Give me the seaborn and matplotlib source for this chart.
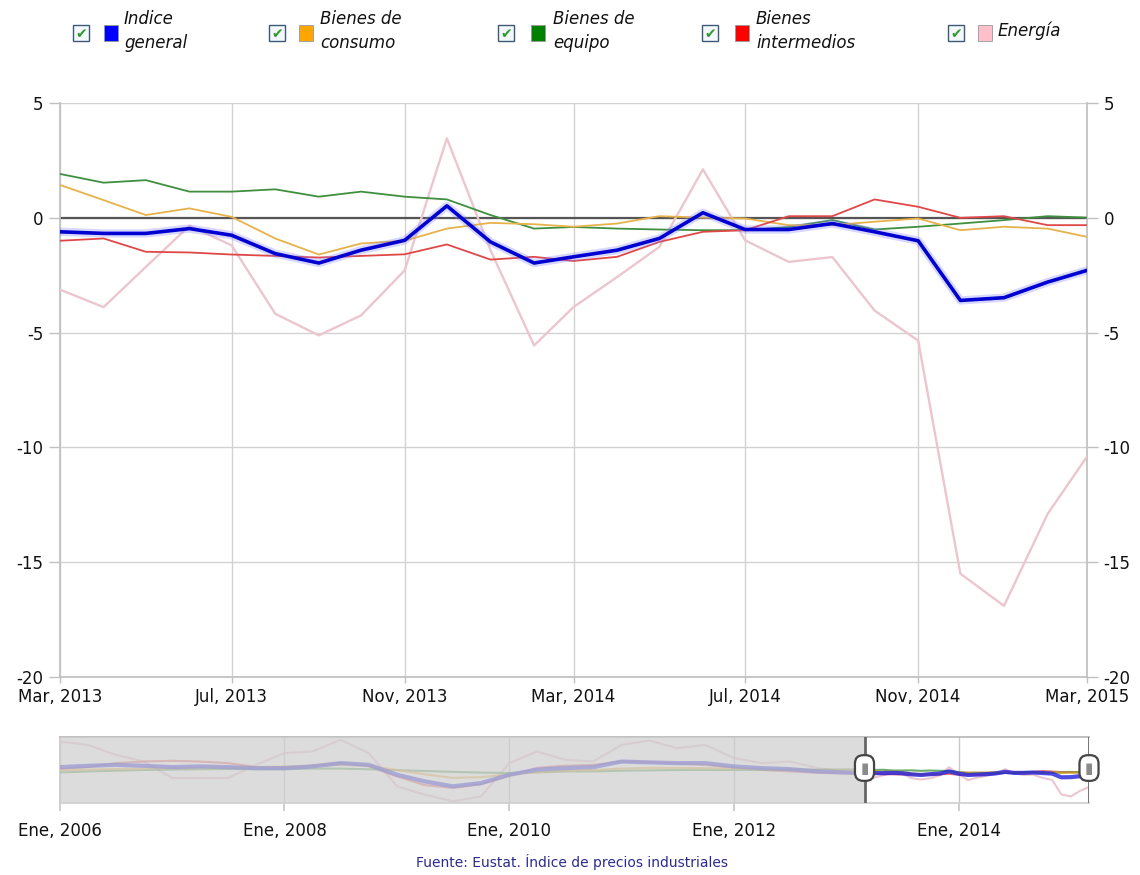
import pandas as pd
import matplotlib.pyplot as plt
import matplotlib.patches as mpatches
import seaborn as sns

# Datos mensuales (Mar 2013 - Mar 2015), tasa de variación interanual
meses = pd.date_range('2013-03-01', '2015-03-01', freq='MS')
general = [-0.61, -0.68, -0.68, -0.47, -0.76, -1.56, -1.97, -1.41, -0.98, 0.52, -1.05, -1.97, -1.7,
           -1.41, -0.9, 0.22, -0.51, -0.51, -0.25, -0.61, -1.0, -3.6, -3.48, -2.8, -2.29]
consumo = [1.43, 0.77, 0.12, 0.41, 0.04, -0.9, -1.6, -1.12, -1.0, -0.47, -0.22, -0.28, -0.39,
           -0.25, 0.07, 0.01, -0.03, -0.32, -0.32, -0.17, -0.03, -0.54, -0.39, -0.47, -0.83]
equipo = [1.91, 1.53, 1.64, 1.14, 1.14, 1.24, 0.92, 1.14, 0.92, 0.8, 0.12, -0.47, -0.4,
          -0.47, -0.51, -0.54, -0.54, -0.4, -0.1, -0.51, -0.39, -0.25, -0.1, 0.07, 0.01]
intermedios = [-1.0, -0.9, -1.48, -1.51, -1.6, -1.66, -1.73, -1.66, -1.59, -1.16, -1.82, -1.7, -1.88,
               -1.7, -1.05, -0.61, -0.54, 0.07, 0.07, 0.8, 0.48, 0.0, 0.07, -0.32, -0.32]
energia = [-3.13, -3.89, -2.14, -0.35, -1.2, -4.18, -5.12, -4.25, -2.29, 3.46, -1.41, -5.56, -3.89,
           -2.58, -1.27, 2.11, -0.98, -1.92, -1.71, -4.04, -5.35, -15.5, -16.9, -12.9, -10.4]

# Histórico trimestral para el navegador (Ene 2006 - Ene 2013)
trimestres = pd.date_range('2006-01-01', '2013-01-01', freq='QS')
general_hist = [3.5, 4.4, 5.1, 4.4, 3.5, 4.0, 3.5, 2.8, 2.8, 4.0, 6.3, 5.1, -1.8, -6.4, -9.9,
                -7.6, -1.8, 1.7, 2.8, 3.5, 7.4, 6.8, 6.3, 6.3, 4.0, 2.8, 2.1, 0.5, -0.2]
consumo_hist = [1.3, 1.8, 2.2, 2.5, 2.8, 3.0, 3.2, 3.5, 4.0, 4.5, 5.0, 4.5, 1.5, -1.5, -4.0,
                -3.5, -1.5, 0.0, 1.0, 1.5, 2.5, 3.0, 3.0, 2.8, 2.5, 2.0, 1.5, 1.2, 1.3]
equipo_hist = [-0.2, 0.5, 1.0, 1.5, 1.8, 2.0, 2.2, 2.0, 2.0, 2.5, 2.5, 2.0, 1.4, 0.8, 0.2,
               -0.3, -0.6, -0.2, 0.5, 0.5, 1.0, 1.2, 1.5, 1.5, 1.5, 1.6, 1.7, 1.8, 1.9]
intermedios_hist = [2.1, 3.5, 6.3, 7.4, 7.9, 7.4, 6.3, 3.5, 2.8, 4.5, 6.5, 4.0, -3.0, -9.0, -11.0,
                    -8.5, -2.5, 3.0, 4.5, 5.0, 7.5, 7.0, 6.0, 5.0, 3.0, 1.5, 0.5, -0.5, -1.0]
energia_hist = [21.3, 19.0, 12.1, 7.4, -4.1, -4.1, -4.1, 5.1, 13.3, 14.4, 22.5, 13.3, -9.9, -15.7, -20.3,
                -16.9, 6.3, 14.4, 8.6, 7.4, 19.0, 22.0, 16.7, 19.0, 9.8, 6.3, 7.4, 2.8, 0.5]

nombres = ['Indice\ngeneral', 'Bienes de\nconsumo', 'Bienes de\nequipo', 'Bienes\nintermedios', 'Energía']
colores = ['#0000ff', '#ffa500', '#008000', '#ff0000', '#ffc0cb']
etiquetas_x = ['Mar, 2013', 'Jul, 2013', 'Nov, 2013', 'Mar, 2014', 'Jul, 2014', 'Nov, 2014', 'Mar, 2015']
anios_nav = pd.to_datetime(['2006-01-01', '2008-01-01', '2010-01-01', '2012-01-01', '2014-01-01'])
etiquetas_nav = ['Ene, 2006', 'Ene, 2008', 'Ene, 2010', 'Ene, 2012', 'Ene, 2014']

sns.set_theme(style='white')
plt.rcParams['font.family'] = ['DejaVu Sans']
plt.rcParams['axes.unicode_minus'] = False

W, H = 1140, 875
fig = plt.figure(figsize=(W / 100, H / 100), dpi=100)
ax = fig.add_axes([60 / W, 1 - 677 / H, 1027 / W, 574 / H])
nav = fig.add_axes([60 / W, 1 - 803 / H, 1029 / W, 66 / H])

# --- gráfico principal ---
sns.lineplot(x=meses, y=energia, ax=ax, color='#ecc6ce', lw=1.7, zorder=3)
sns.lineplot(x=meses, y=equipo, ax=ax, color='#3f8f3f', lw=1.3, zorder=4)
sns.lineplot(x=meses, y=consumo, ax=ax, color='#e6b24a', lw=1.3, zorder=4)
sns.lineplot(x=meses, y=intermedios, ax=ax, color='#e04848', lw=1.3, zorder=4)
sns.lineplot(x=meses, y=general, ax=ax, color='#8080ff', lw=6, alpha=0.3, zorder=5)
sns.lineplot(x=meses, y=general, ax=ax, color='#0000d0', lw=2.6, zorder=6)
ax.axhline(0, color='#555555', lw=1.6, zorder=2)

ax.set_xlim(meses[0], meses[-1])
ax.set_ylim(-20, 5)
ax.set_yticks([5, 0, -5, -10, -15, -20])
ax.set_xticks(meses[::4])
ax.set_xticklabels(etiquetas_x)
ax.grid(True, color='#d2d2d2', lw=1)
ax.set_xlabel('')
ax.set_ylabel('')
for s in ['left', 'right', 'bottom']:
    ax.spines[s].set_color('#c0c0c0')
ax.spines['top'].set_visible(False)
ax.tick_params(axis='y', left=True, right=True, labelleft=True, labelright=True,
               length=8, width=1, color='#c0c0c0', labelsize=12, pad=4, labelcolor='#111111')
ax.tick_params(axis='x', bottom=True, length=4, width=1, color='#c0c0c0', labelsize=12, pad=3.8,
               labelcolor='#111111')

# --- navegador ---
fechas_nav = trimestres.append(meses)
series_nav = [general_hist + general, consumo_hist + consumo, equipo_hist + equipo,
              intermedios_hist + intermedios, energia_hist + energia]
estilos_nav = [('#2020e0', 3.0, 0.8), ('#e6a020', 1.5, 0.7), ('#2e8b2e', 1.5, 0.7),
               ('#e04040', 1.5, 0.7), ('#e8b8c4', 1.5, 0.8)]
for vals, (c, lw, a) in reversed(list(zip(series_nav, estilos_nav))):
    sns.lineplot(x=fechas_nav, y=vals, ax=nav, color=c, lw=lw, alpha=a, zorder=3)

nav.set_xlim(pd.Timestamp('2006-01-01'), meses[-1])
nav.set_ylim(-21.5, 24.5)
nav.axvspan(pd.Timestamp('2006-01-01'), meses[0], color='#cfcfcf', alpha=0.72, lw=0, zorder=4)
nav.set_xticks(anios_nav)
nav.set_xticklabels(etiquetas_nav)
nav.set_yticks([])
nav.set_xlabel('')
nav.set_ylabel('')
nav.grid(True, axis='x', color='#c8c8c8', lw=1)
nav.spines['top'].set_color('#b8b8b8')
nav.spines['bottom'].set_color('#d0d0d0')
nav.spines['left'].set_color('#c8c8c8')
nav.spines['right'].set_visible(False)
nav.tick_params(axis='x', bottom=True, length=6, color='#c8c8c8', labelsize=12, pad=8,
                labelcolor='#111111')
for d in [meses[0], meses[-1]]:
    nav.axvline(d, color='#666666', lw=2, zorder=6)
    nav.annotate('▮', xy=(d, 0.53), xycoords=('data', 'axes fraction'), ha='center', va='center',
                 fontsize=11, color='#8a8a8a', zorder=7,
                 bbox=dict(boxstyle='round,pad=0.35,rounding_size=0.55', fc='white', ec='#444444', lw=1.6))

fig.text(572 / W, 1 - 862 / H, 'Fuente: Eustat. Índice de precios industriales', ha='center',
         va='center', fontsize=10, color='#2b2b8f')

# --- leyenda con casillas ---
pos_leyenda = [(81, 111, 124), (277, 306, 320), (506, 538, 553), (710, 742, 756), (956, 985, 998)]
for (cx, sx, tx), nombre, color in zip(pos_leyenda, nombres, colores):
    cy = 33
    fig.patches.append(mpatches.Rectangle(((cx - 8) / W, 1 - (cy + 8) / H), 16 / W, 16 / H,
                                          transform=fig.transFigure, fc='#f4f8fc', ec='#3c5a78', lw=1))
    fig.text(cx / W, 1 - (cy + 1) / H, '✔', ha='center', va='center', fontsize=10, color='#2e9a2e')
    fig.patches.append(mpatches.Rectangle(((sx - 7) / W, 1 - (cy + 8) / H), 14 / W, 16 / H,
                                          transform=fig.transFigure, fc=color, ec='#999999', lw=0.6))
    fig.text(tx / W, 1 - (cy - 2) / H, nombre, ha='left', va='center', fontsize=12, style='italic',
             linespacing=1.45, color='#111111')

fig.savefig('out.png', dpi=100)
